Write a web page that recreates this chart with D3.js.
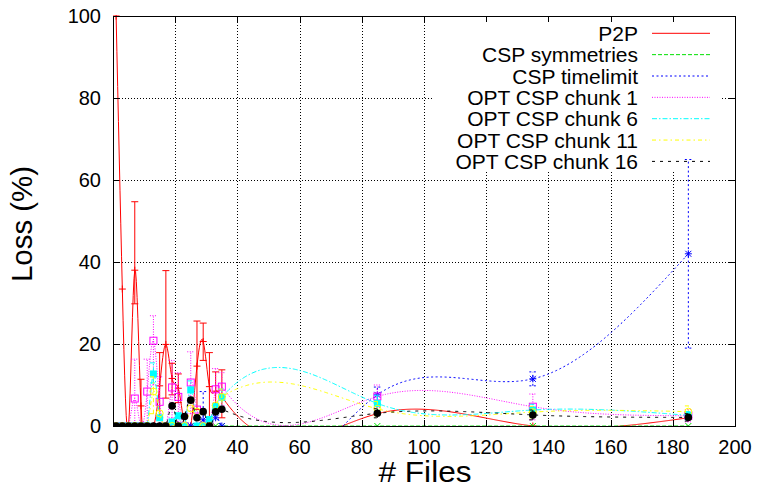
<!DOCTYPE html>
<html><head><meta charset="utf-8">
<script src="https://cdn.jsdelivr.net/npm/d3@7/dist/d3.min.js"></script>
<style>body{margin:0;background:#fff} text{font-family:"Liberation Sans",Arial,Helvetica,sans-serif}</style>
</head><body><svg id="c" width="759" height="488"></svg>
<script>
// ---------- data ----------
const files = [1,3,5,7,9,11,13,15,17,19,21,23,25,27,29,31,33,35,85,135,185];
const xTickValues = [0,20,40,60,80,100,120,140,160,180,200];
const yTickValues = [0,20,40,60,80,100];
const seriesNames = ["P2P","CSP symmetries","CSP timelimit","OPT CSP chunk 1","OPT CSP chunk 6","OPT CSP chunk 11","OPT CSP chunk 16"];

const p2p      = [100,33.4,0,38,4.9,0,0,9.8,19.9,11.6,9.2,0,0,14.6,20.6,9.6,8.5,7.2,3,0,2];
const p2pLo    = [null,null,null,29.8,0,null,null,2,6.8,7.6,5.7,null,null,4,16,1,4,2,null,null,null];
const p2pHi    = [null,null,null,54.7,11.4,null,null,17.9,37.9,15.3,12.7,null,null,25.6,25.1,17.9,13.2,13.7,null,null,null];

const symm     = [0,0,0,0,0,0,0,0,0,0,0,0,0,0,0,0,0,0,0,0,0];

const tlim     = [0,0,0,0,0,0,0,0,0,0,0,0,0,0,1.5,0,2,0,7.6,11.5,42];
const tlimLo   = [null,null,null,null,null,null,null,null,null,null,null,null,null,null,0,null,null,null,5.5,9.8,19];
const tlimHi   = [null,null,null,null,null,null,null,null,null,null,null,null,null,null,8.4,null,null,null,9.5,13.2,65];

const chunk1   = [0,0,0,6.7,0,8.4,20.8,5.9,0,9.4,7.1,0,10.6,4,0,0,8.95,9.6,7.2,4.7,2.5];
const chunk1Lo = [null,null,null,0,null,0,10,0,null,2,1,null,3,null,null,null,4,5,4.5,1.5,1];
const chunk1Hi = [null,null,null,16.3,null,16.3,26.9,12,null,16,13,null,18.1,null,null,null,14,13,10,7.8,4];

const chunk6   = [0,0,0,0,0,0,12.7,2,0,1,2.5,0,8.8,0,0,1.6,4.75,7,5.5,3.9,2.6];
const chunk6Lo = [null,null,null,null,null,null,10.5,null,null,null,null,null,6,null,null,null,null,4,3.5,2.5,1.5];
const chunk6Hi = [null,null,null,null,null,null,15.4,null,null,null,null,null,11,null,null,null,null,9,7.5,5.3,3.5];

const chunk11   = [0,0,0,0,0,0,8.4,3.1,0,0,0,0,4.3,3.5,0,0,5.0,7.1,4.2,3.4,3.5];
const chunk11Lo = [null,null,null,null,null,null,3,null,null,null,null,null,null,null,null,null,null,4,2.5,2,2];
const chunk11Hi = [null,null,null,null,null,null,12,null,null,null,null,null,null,null,null,null,null,9,6,4.8,4.9];

const chunk16   = [0,0,0,0,0,0,0,0,0,4.9,0,2.3,6.3,2.0,3.5,0,3.45,4.1,3.1,2.7,2.1];
const chunk16Lo = [null,null,null,null,null,null,null,null,null,null,null,null,null,null,null,null,null,null,2,1.5,1.2];
const chunk16Hi = [null,null,null,null,null,null,null,null,null,null,null,null,null,null,null,null,null,null,4.2,3.9,3];

// ---------- setup ----------
const svg = d3.select("#c");
const x = d3.scaleLinear().domain([0,200]).range([113,735]);
const y = d3.scaleLinear().domain([0,100]).range([426,16]);
const X0 = x(0), X1 = x(200), Y0 = y(0), Y1 = y(100);

const series = [
  {name:seriesNames[0], v:p2p, lo:p2pLo, hi:p2pHi, color:"#ff0000", dash:null, marker:"plus"},
  {name:seriesNames[1], v:symm, lo:null, hi:null, color:"#00e000", dash:"4,2", marker:"cross"},
  {name:seriesNames[2], v:tlim, lo:tlimLo, hi:tlimHi, color:"#0000ff", dash:"2,2.5", marker:"star"},
  {name:seriesNames[3], v:chunk1, lo:chunk1Lo, hi:chunk1Hi, color:"#ff00ff", dash:"1,1.5", marker:"osquare"},
  {name:seriesNames[4], v:chunk6, lo:chunk6Lo, hi:chunk6Hi, color:"#00ffff", dash:"5,2,1.5,2", marker:"fsquare"},
  {name:seriesNames[5], v:chunk11, lo:chunk11Lo, hi:chunk11Hi, color:"#ffff00", dash:"4,3,1.5,3", marker:"ocircle"},
  {name:seriesNames[6], v:chunk16, lo:chunk16Lo, hi:chunk16Hi, color:"#000000", dash:"3,5", marker:"fcircle"}
];

// natural cubic spline (gnuplot "smooth csplines")
function naturalSpline(xs, ys){
  const n = xs.length, h = [], M = new Array(n).fill(0);
  for(let i=0;i<n-1;i++) h.push(xs[i+1]-xs[i]);
  const a=[],b=[],c=[],d=[];
  for(let i=1;i<n-1;i++){
    a.push(h[i-1]); b.push(2*(h[i-1]+h[i])); c.push(h[i]);
    d.push(6*((ys[i+1]-ys[i])/h[i]-(ys[i]-ys[i-1])/h[i-1]));
  }
  const m=a.length;
  for(let i=1;i<m;i++){ const w=a[i]/b[i-1]; b[i]-=w*c[i-1]; d[i]-=w*d[i-1]; }
  const sol=new Array(m);
  for(let i=m-1;i>=0;i--) sol[i]=(d[i]-(i<m-1?c[i]*sol[i+1]:0))/b[i];
  for(let i=0;i<m;i++) M[i+1]=sol[i];
  const pts=[];
  for(let i=0;i<n-1;i++){
    const hi=h[i], steps=Math.max(8,Math.ceil(hi*3));
    for(let k=0;k<=steps;k++){
      if(i>0&&k===0) continue;
      const t=xs[i]+hi*k/steps, A=xs[i+1]-t, B=t-xs[i];
      const s=M[i]*A*A*A/(6*hi)+M[i+1]*B*B*B/(6*hi)+(ys[i]/hi-M[i]*hi/6)*A+(ys[i+1]/hi-M[i+1]*hi/6)*B;
      pts.push([t,s]);
    }
  }
  return pts;
}

// ---------- grid ----------
const grid = svg.append("g").attr("stroke","#000").attr("stroke-width",1).attr("stroke-dasharray","1,2").attr("shape-rendering","crispEdges");
xTickValues.slice(1,-1).forEach(v=>{
  grid.append("line").attr("x1",Math.round(x(v))+0.5).attr("x2",Math.round(x(v))+0.5).attr("y1",Y1).attr("y2",Y0);
});
yTickValues.slice(1,-1).forEach(v=>{
  grid.append("line").attr("y1",Math.round(y(v))+0.5).attr("y2",Math.round(y(v))+0.5).attr("x1",X0).attr("x2",X1);
});
// key background (hides grid behind legend)
svg.append("rect").attr("x",433).attr("y",Y1+1).attr("width",289).attr("height",155).attr("fill","#fff");

// ---------- plot ----------
svg.append("defs").append("clipPath").attr("id","pc").append("rect")
  .attr("x",X0).attr("y",Y1-1).attr("width",X1-X0).attr("height",Y0-Y1+2);
const plot = svg.append("g").attr("clip-path","url(#pc)");
const line = d3.line().x(d=>x(d[0])).y(d=>y(d[1]));

function marker(g, type, cx, cy, color){
  const s=3.5;
  if(type==="plus"){
    g.append("path").attr("d",`M${cx-s},${cy}H${cx+s}M${cx},${cy-s}V${cy+s}`).attr("stroke",color).attr("fill","none");
  } else if(type==="cross"){
    g.append("path").attr("d",`M${cx-3},${cy-3}L${cx+3},${cy+3}M${cx-3},${cy+3}L${cx+3},${cy-3}`).attr("stroke",color).attr("fill","none");
  } else if(type==="star"){
    g.append("path").attr("d",`M${cx-s},${cy}H${cx+s}M${cx},${cy-s}V${cy+s}M${cx-3},${cy-3}L${cx+3},${cy+3}M${cx-3},${cy+3}L${cx+3},${cy-3}`).attr("stroke",color).attr("fill","none");
  } else if(type==="osquare"){
    g.append("rect").attr("x",cx-s).attr("y",cy-s).attr("width",2*s).attr("height",2*s).attr("stroke",color).attr("fill","none");
  } else if(type==="fsquare"){
    g.append("rect").attr("x",cx-s).attr("y",cy-s).attr("width",2*s).attr("height",2*s).attr("fill",color);
  } else if(type==="ocircle"){
    g.append("circle").attr("cx",cx).attr("cy",cy).attr("r",s).attr("stroke",color).attr("fill","none");
  } else if(type==="fcircle"){
    g.append("circle").attr("cx",cx).attr("cy",cy).attr("r",s+0.3).attr("fill",color);
  }
}

series.forEach(s=>{
  const g = plot.append("g");
  if(s.lo){
    files.forEach((f,i)=>{
      if(s.lo[i]==null) return;
      const cx=x(f), yl=y(s.lo[i]), yh=y(s.hi[i]);
      g.append("path").attr("d",`M${cx},${yl}V${yh}M${cx-3.5},${yl}H${cx+3.5}M${cx-3.5},${yh}H${cx+3.5}`)
        .attr("stroke",s.color).attr("fill","none").attr("stroke-dasharray",s.dash);
    });
  }
  g.append("path").attr("d",line(naturalSpline(files,s.v))).attr("fill","none")
    .attr("stroke",s.color).attr("stroke-width",1).attr("stroke-dasharray",s.dash);
  files.forEach((f,i)=>marker(g,s.marker,x(f),y(s.v[i]),s.color));
});

// ---------- border & ticks ----------
svg.append("rect").attr("x",X0+0.5).attr("y",Y1+0.5).attr("width",X1-X0).attr("height",Y0-Y1)
  .attr("fill","none").attr("stroke","#000").attr("stroke-width",1).attr("shape-rendering","crispEdges");
const tk = svg.append("g").attr("stroke","#000").attr("shape-rendering","crispEdges");
xTickValues.forEach(v=>{
  const px=Math.round(x(v))+0.5;
  tk.append("line").attr("x1",px).attr("x2",px).attr("y1",Y0).attr("y2",Y0-6);
  tk.append("line").attr("x1",px).attr("x2",px).attr("y1",Y1).attr("y2",Y1+6);
});
yTickValues.forEach(v=>{
  const py=Math.round(y(v))+0.5;
  tk.append("line").attr("y1",py).attr("y2",py).attr("x1",X0).attr("x2",X0+6);
  tk.append("line").attr("y1",py).attr("y2",py).attr("x1",X1).attr("x2",X1-6);
});
const xAxisLabels = svg.append("g").attr("font-size",20).attr("text-anchor","middle");
xTickValues.forEach(v=>xAxisLabels.append("text").attr("x",x(v)).attr("y",454).text(v));
const yAxisLabels = svg.append("g").attr("font-size",20).attr("text-anchor","end");
yTickValues.forEach(v=>yAxisLabels.append("text").attr("x",101).attr("y",y(v)+7).text(v));

svg.append("text").attr("x",425).attr("y",482).attr("text-anchor","middle").attr("font-size",29)
  .attr("textLength",93).attr("lengthAdjust","spacingAndGlyphs").text("# Files");
svg.append("text").attr("transform","translate(32,224) rotate(-90)").attr("text-anchor","middle").attr("font-size",29)
  .attr("textLength",116).attr("lengthAdjust","spacingAndGlyphs").text("Loss (%)");

// ---------- legend ----------
const lg = svg.append("g");
series.forEach((s,i)=>{
  const cy = 33.3 + i*21.35;
  lg.append("text").attr("x",638).attr("y",cy+7.5).attr("text-anchor","end").attr("font-size",21).text(s.name);
  lg.append("line").attr("x1",652).attr("x2",710).attr("y1",cy).attr("y2",cy)
    .attr("stroke",s.color).attr("stroke-dasharray",s.dash);
});
</script></body></html>
